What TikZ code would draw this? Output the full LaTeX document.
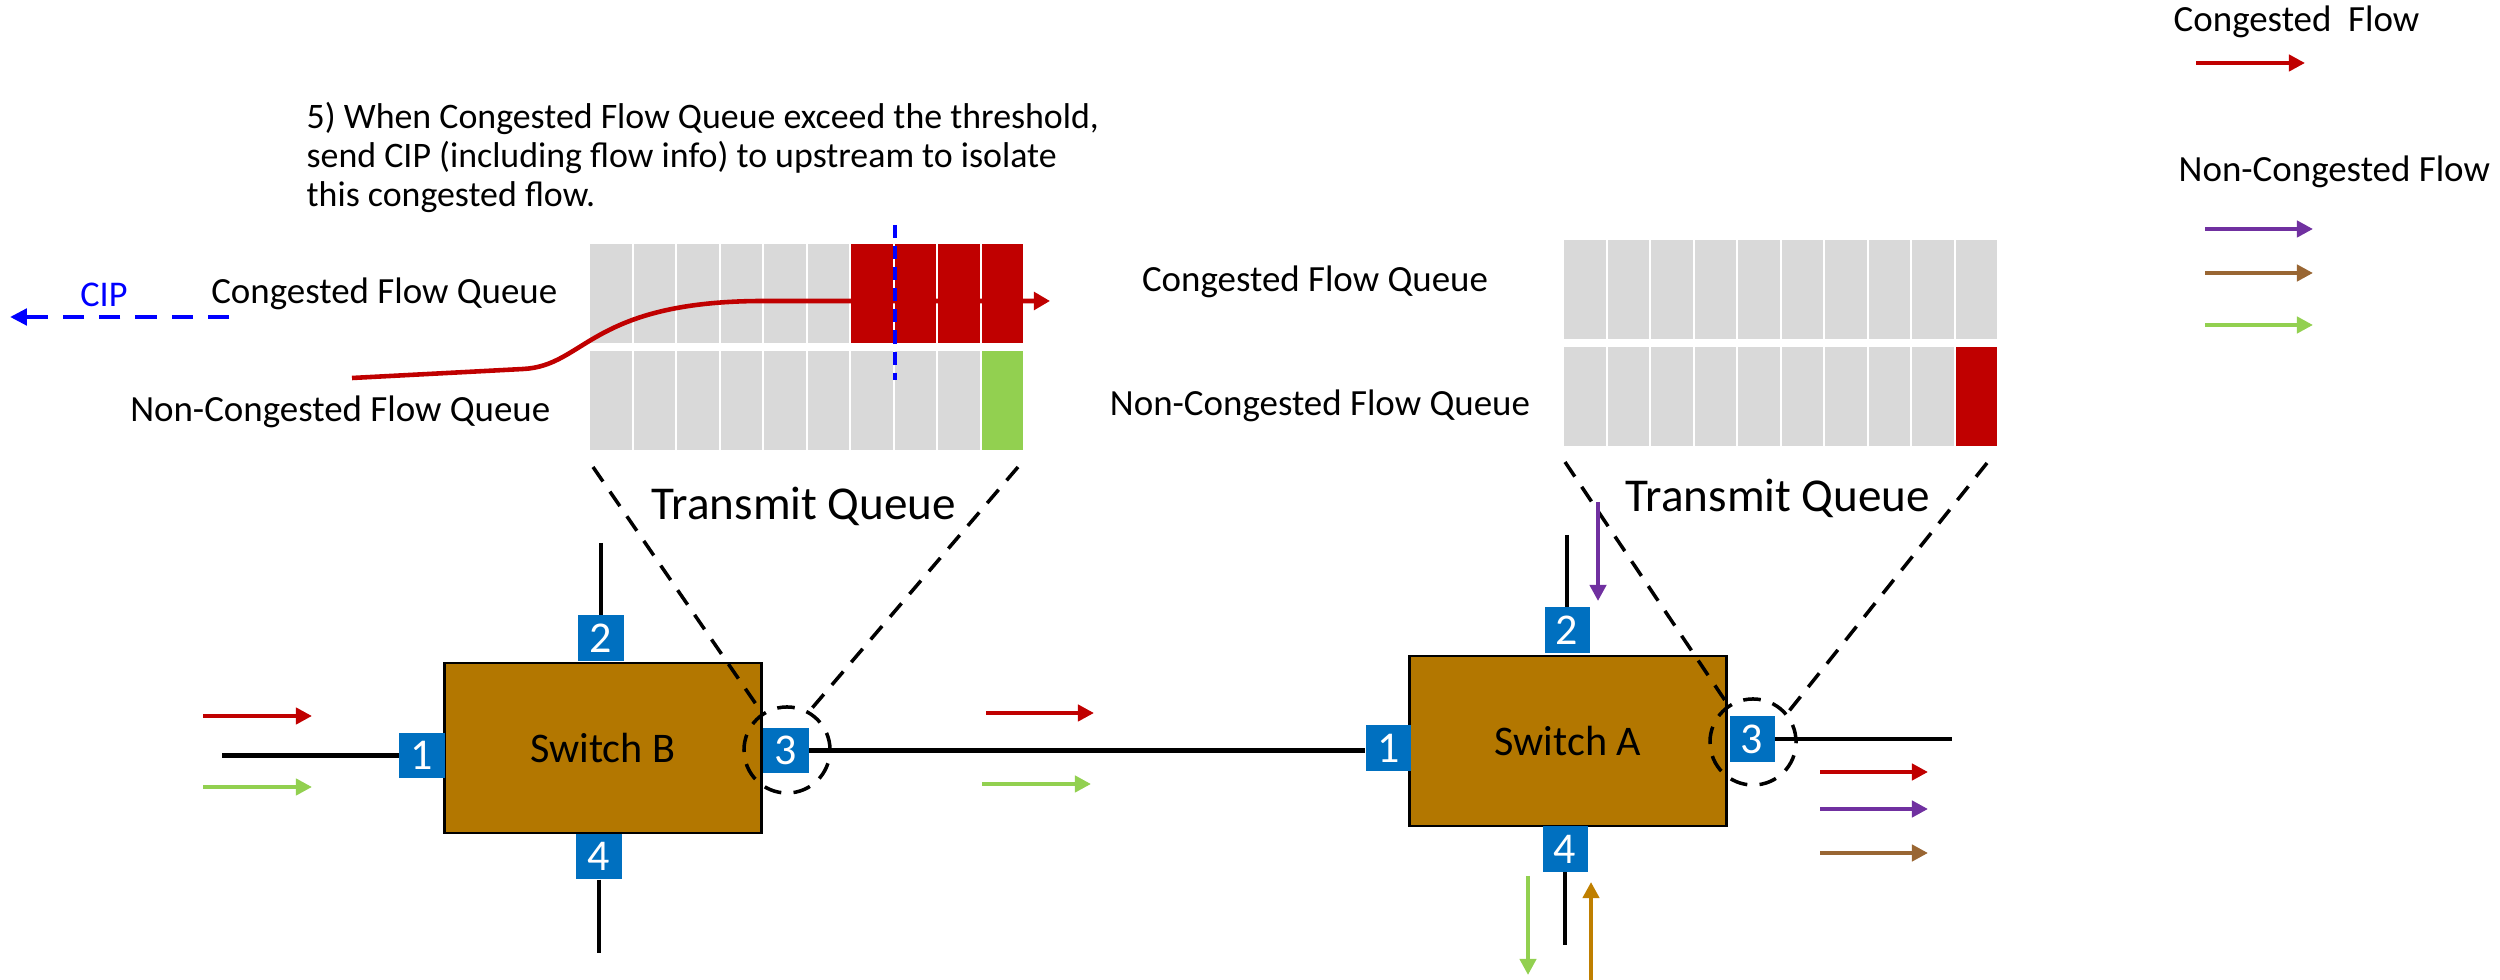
\documentclass[tikz,border=0pt]{standalone}
\usepackage{fontspec}
\setmainfont{Carlito}
\usetikzlibrary{arrows.meta}
\definecolor{cgred}{HTML}{C00000}
\definecolor{ncpurple}{HTML}{7030A0}
\definecolor{ncbrown}{HTML}{996633}
\definecolor{ncgreen}{HTML}{92D050}
\definecolor{ncorange}{HTML}{BF7F00}
\definecolor{swfill}{HTML}{B37700}
\definecolor{portblue}{HTML}{0070C0}
\definecolor{qgray}{HTML}{D9D9D9}
\definecolor{cipblue}{HTML}{0000FF}
\tikzset{
  flow/.style={line width=1.3pt,-{Triangle[length=4.6pt,width=4.6pt]}},
  switchbox/.style={draw=black,line width=0.8pt,fill=swfill,minimum width=3.17cm,minimum height=1.70cm,font=\fontsize{12}{14}\selectfont},
  port/.style={fill=portblue,text=white,minimum size=0.45cm,inner sep=0pt,font=\fontsize{12.5}{14}\selectfont},
  link/.style={line width=1.35pt},
  zoomring/.style={circle,draw=black,line width=1pt,dash pattern=on 5pt off 3.5pt,minimum size=0.86cm,inner sep=0pt},
  zoomline/.style={line width=1pt,dash pattern=on 5pt off 3.5pt},
  qlabel/.style={font=\fontsize{10.5}{12}\selectfont,inner sep=0pt},
  tqlabel/.style={font=\fontsize{13.4}{15}\selectfont,inner sep=0pt}
}
\begin{document}
\begin{tikzpicture}[x=0.01cm,y=-0.01cm]
\useasboundingbox (0,0) rectangle (2500,980);
% queues of switch B
\foreach \i in {0,...,9}{
  \fill[qgray] ({589+43.5*\i+1},244) rectangle ({589+43.5*\i+42.5},343);
  \fill[qgray] ({589+43.5*\i+1},351) rectangle ({589+43.5*\i+42.5},450);
}
\foreach \i in {6,...,9}
  \fill[cgred] ({589+43.5*\i+1},244) rectangle ({589+43.5*\i+42.5},343);
\fill[ncgreen] ({589+43.5*9+1},351) rectangle ({589+43.5*9+42.5},450);
% queues of switch A
\foreach \i in {0,...,9}{
  \fill[qgray] ({1563+43.5*\i+1},240) rectangle ({1563+43.5*\i+42.5},339);
  \fill[qgray] ({1563+43.5*\i+1},347) rectangle ({1563+43.5*\i+42.5},446);
}
\fill[cgred] ({1563+43.5*9+1},347) rectangle ({1563+43.5*9+42.5},446);
\draw[cgred,line width=1.3pt,-{Triangle[length=4.6pt,width=5pt]}] (352,378) -- (523,369) .. controls (585,366) and (590,302) .. (760,301) -- (1050,301);
\draw[cipblue,line width=1.2pt,dash pattern=on 3.7pt off 2.3pt] (895,225) -- (895,380);
\draw[cipblue,line width=1.4pt,dash pattern=on 6pt off 4.3pt,-{Triangle[length=4.8pt,width=4.6pt]}] (229,317) -- (10,317);
\node[cipblue,qlabel,font=\fontsize{10.3}{12}\selectfont,anchor=base] (cip) at (104,307) {CIP};
\node[anchor=north west,inner sep=0pt,align=left,font=\fontsize{10.2}{11.1}\selectfont] (note) at (306,102) {5) When Congested Flow Queue exceed the threshold,\\send CIP (including flow info) to upstream to isolate\\this congested flow.};
\node[qlabel,anchor=base east] (cqB) at (558,304) {Congested Flow Queue};
\node[qlabel,anchor=base east] (ncqB) at (551,422) {Non-Congested Flow Queue};
\node[qlabel,anchor=base] (cqA) at (1315,292) {Congested Flow Queue};
\node[qlabel,anchor=base] (ncqA) at (1320,416) {Non-Congested Flow Queue};
\node[tqlabel,anchor=base] (tqB) at (804,520) {Transmit Queue};
\node[tqlabel,anchor=base] (tqA) at (1778,512) {Transmit Queue};
% switches
\node[switchbox] (swB) at (603,748) {Switch B};
\node[switchbox] (swA) at (1568,741) {Switch A};
\node[port] (b1) at (422,755.5) {1};
\node[port] (b2) at (601,638) {2};
\node[port] (b3) at (786,750.5) {3};
\node[port] (b4) at (599,856.5) {4};
\node[port] (a1) at (1388.5,748) {1};
\node[port] (a2) at (1567,630) {2};
\node[port] (a3) at (1752,739) {3};
\node[port] (a4) at (1565,849) {4};
\coordinate (b1end) at (222,755.5);
\coordinate (b2end) at (601,543);
\coordinate (b4end) at (599,953);
\coordinate (a2end) at (1567,535);
\coordinate (a4end) at (1565,945);
\coordinate (a3end) at (1952,739);
\draw[link] (b1end) -- (b1);
\draw[link] (b2end) -- (b2);
\draw[link] (b4) -- (b4end);
\draw[link] (b3.east) -- (b3.east -| a1.west);
\draw[link] (a2end) -- (a2);
\draw[link] (a4) -- (a4end);
\draw[link] (a3) -- (a3end);
% zoom on port 3
\node[zoomring] (cB) at (787,750) {};
\node[zoomring] (cA) at (1753,742) {};
\coordinate (qBl) at (593,467);
\coordinate (qBr) at (1018,467);
\coordinate (qAl) at (1565,462);
\coordinate (qAr) at (1987,463);
\draw[zoomline] (qBl) -- (cB.124);
\draw[zoomline] (qBr) -- (cB.60);
\draw[zoomline] (qAl) -- (cA.124);
\draw[zoomline] (qAr) -- (cA.40);
% flows
\draw[flow,cgred] (203,716) -- (312,716);
\draw[flow,ncgreen] (203,787) -- (312,787);
\draw[flow,cgred] (986,713) -- (1094,713);
\draw[flow,ncgreen] (982,784) -- (1091,784);
\draw[flow,ncpurple] (1598,502) -- (1598,601);
\draw[flow,ncgreen] (1528,876) -- (1528,975);
\draw[flow,ncorange] (1591,980) -- (1591,882);
\draw[flow,cgred] (1820,772) -- (1928,772);
\draw[flow,ncpurple] (1820,809) -- (1928,809);
\draw[flow,ncbrown] (1820,853) -- (1928,853);
% legend
\node[qlabel,anchor=base west] (lgc) at (2173,32) {Congested~ Flow};
\node[qlabel,anchor=base west] (lgn) at (2178,182) {Non-Congested Flow};
\draw[flow,cgred] (2196,63) -- (2305,63);
\draw[flow,ncpurple] (2205,229) -- (2313,229);
\draw[flow,ncbrown] (2205,273) -- (2313,273);
\draw[flow,ncgreen] (2205,325) -- (2313,325);
\end{tikzpicture}
\end{document}
